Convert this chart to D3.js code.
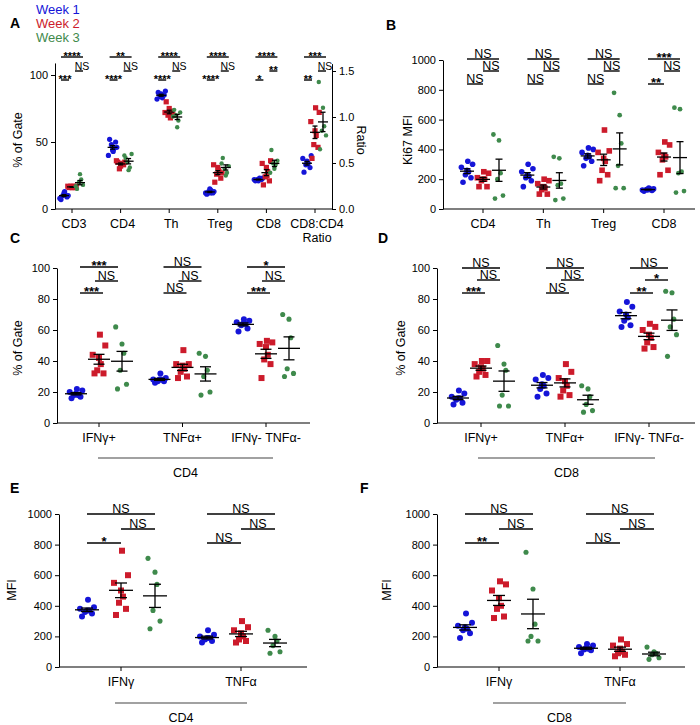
<!DOCTYPE html>
<html><head><meta charset="utf-8">
<script src="https://cdn.jsdelivr.net/npm/d3@7"></script>
<style>body{margin:0;background:#fff}text{font-family:"Liberation Sans",Arial,sans-serif}</style>
</head><body><svg id="c" width="700" height="725"></svg>
<script>
const weeks = ["Week 1","Week 2","Week 3"];
const colors = ["#1515d8","#cc1b2b","#3f8a4c"];

// Panel A
const catsA = ["CD3","CD4","Th","Treg","CD8","CD8:CD4\nRatio"];
const dataA = [
 [[7,9,10,11,12,8,10,13],[16,16,17,17,16,17,17,16],[15,18,20,22,26,17]],
 [[52,50,48,45,44,40,46,43],[35,33,30,34,32,36,35,34],[38,41,35,31,29,40]],
 [[87,85,84,83,86,82,88,84],[80,73,70,68,75,72,70,71],[74,72,70,66,61,69]],
 [[11,12,13,14,15,12,13,12],[20,23,26,28,31,33,27,29],[38,32,30,27,25,34]],
 [[21,22,22,23,21,22,23,22],[18,21,24,28,31,34,36,25],[44,36,34,33,30,27]],
 [[0.40,0.45,0.48,0.50,0.52,0.55,0.58,0.50],[0.55,0.67,0.70,0.80,0.85,0.95,1.05,1.10],[0.65,0.80,0.85,0.90,1.10,1.38]]
];
const sigA = [["****","NS","***"],["**","NS","****"],["****","NS","****"],["****","NS","****"],["****","**","*"],["***","NS","**"]];
const ticksA = [0,50,100];
const ticksARight = [0,0.5,1.0,1.5];

// Panel B
const catsB = ["CD4","Th","Treg","CD8"];
const dataB = [
 [[180,210,230,250,260,280,300,320],[150,150,190,200,200,210,240,250],[70,90,200,240,460,500]],
 [[150,190,210,220,230,250,270,300],[100,100,130,140,150,170,190,200],[60,70,160,170,340,350]],
 [[290,320,340,350,360,380,400,410],[190,230,260,320,340,380,390,530],[140,140,290,440,630,780]],
 [[120,125,130,135,130,128,135,140],[230,260,330,350,360,380,430,450],[110,120,240,250,670,680]]
];
const sigB = [["NS","NS","NS"],["NS","NS","NS"],["NS","NS","NS"],["***","NS","**"]];
const ticksMFI = [0,200,400,600,800,1000];

// Panels C and D
const catsCD = ["IFNγ+","TNFα+","IFNγ- TNFα-"];
const dataC = [
 [[16,17,18,18,19,20,21,22],[32,32,34,38,42,44,50,57],[22,25,34,45,51,62]],
 [[26,27,27,28,28,28,29,32],[29,30,33,35,37,38,38,47],[18,20,30,34,43,45]],
 [[59,61,63,64,64,65,66,67],[29,38,41,44,49,51,52,53],[30,32,35,55,67,70]]
];
const sigC = [["***","NS","***"],["NS","NS","NS"],["*","NS","***"]];
const dataD = [
 [[12,13,15,16,16,17,19,21],[30,31,33,35,36,38,40,40],[11,11,18,34,38,50]],
 [[17,19,22,24,25,28,29,31],[17,18,21,24,27,29,33,38],[7,8,12,17,22,24]],
 [[62,63,66,68,70,72,75,78],[48,49,52,55,57,60,62,64],[43,57,62,67,84,85]]
];
const sigD = [["NS","NS","***"],["NS","NS","NS"],["NS","*","**"]];
const ticksPct = [0,20,40,60,80,100];

// Panels E and F
const catsEF = ["IFNγ","TNFα"];
const dataE = [
 [[330,350,360,370,370,380,390,440],[340,380,420,460,500,550,600,760],[250,300,370,540,620,710]],
 [[160,170,180,190,190,200,210,240],[160,170,180,200,220,240,260,300],[90,100,140,170,200,240]]
];
const sigE = [["NS","NS","*"],["NS","NS","NS"]];
const dataF = [
 [[190,220,240,250,260,270,290,350],[320,330,380,400,450,500,540,560],[170,170,200,280,510,750]],
 [[90,110,115,120,125,130,140,150],[70,80,90,100,120,140,150,180],[50,60,80,90,100,130]]
];
const sigF = [["NS","NS","**"],["NS","NS","NS"]];

const svg = d3.select("#c");
const jit = [-5,5,-2,2,0,-7,7,1];

function panel(o){
  const g = svg.append("g");
  const y = d3.scaleLinear().domain([0,o.tmax]).range([o.y0,o.yt]);
  const x = d3.scalePoint().domain(o.cats).range([o.c0,o.c1]);
  const ya = y.copy().domain([0,o.dmax]).range([o.y0,y(o.dmax)]);
  const la = g.append("g").attr("transform",`translate(${o.ax},0)`)
    .call(d3.axisLeft(ya).tickValues(o.ticks).tickSize(4).tickSizeOuter(0).tickFormat(d3.format("d")));
  la.selectAll("text").style("font-size","11px").style("font-family","Liberation Sans, Arial");
  g.append("line").attr("x1",o.ax).attr("x2",o.xe).attr("y1",o.y0).attr("y2",o.y0).attr("stroke","#000").attr("stroke-width",1.2);
  o.cats.forEach(c=>{
    g.append("line").attr("x1",x(c)).attr("x2",x(c)).attr("y1",o.y0).attr("y2",o.y0+4).attr("stroke","#000");
    const lines = c.split("\n");
    lines.forEach((t,i)=>g.append("text").attr("x",x(c)+(o.lx||0)).attr("y",o.y0+19+i*14).attr("text-anchor","middle").style("font-size","12.5px").text(t));
  });
  g.append("text").attr("transform",`translate(${o.tx},${o.ty}) rotate(-90)`).attr("text-anchor","middle").style("font-size","12.5px").text(o.title);
  let yr = null;
  if(o.right){
    yr = d3.scaleLinear().domain([0,1.5]).range([o.y0,o.yr15]);
    const ra = g.append("g").attr("transform",`translate(${o.xe},0)`)
      .call(d3.axisRight(yr.copy().domain([0,1.58]).range([o.y0,yr(1.58)])).tickValues(ticksARight).tickSize(4).tickSizeOuter(0).tickFormat(d3.format(".1f")));
    ra.selectAll("text").style("font-size","11px");
  }
  o.data.forEach((grp,ci)=>{
    const cx = x(o.cats[ci]);
    const ys = (o.right && ci===o.cats.length-1) ? yr : y;
    grp.forEach((vals,wi)=>{
      const gx = cx + (wi-1)*o.off;
      vals.forEach((v,i)=>{
        const px = gx + jit[i%8]*o.js, py = ys(v);
        if(wi===1) g.append("rect").attr("x",px-o.r).attr("y",py-o.r).attr("width",o.r*2).attr("height",o.r*2).attr("fill",colors[1]);
        else g.append("circle").attr("cx",px).attr("cy",py).attr("r",wi===0?o.r:o.r*0.85).attr("fill",colors[wi]);
      });
      const m = d3.mean(vals), se = d3.deviation(vals)/Math.sqrt(vals.length);
      g.append("line").attr("x1",gx-o.mw).attr("x2",gx+o.mw).attr("y1",ys(m)).attr("y2",ys(m)).attr("stroke","#000").attr("stroke-width",1.3);
      [m-se,m+se].forEach(v=>g.append("line").attr("x1",gx-o.mw*0.5).attr("x2",gx+o.mw*0.5).attr("y1",ys(v)).attr("y2",ys(v)).attr("stroke","#000").attr("stroke-width",1.3));
      g.append("line").attr("x1",gx).attr("x2",gx).attr("y1",ys(m-se)).attr("y2",ys(m+se)).attr("stroke","#000").attr("stroke-width",1.3);
    });
    const s = o.sig[ci];
    const bx=cx-o.off, rx=cx, gx=cx+o.off, t=o.trim;
    const spans = [[bx-t,gx+t],[rx+t,gx+t],[bx-t,rx-t]];
    const fs = o.sfs||13;
    spans.forEach((sp,k)=>{
      const ly = o.sy[k];
      g.append("line").attr("x1",sp[0]).attr("x2",sp[1]).attr("y1",ly).attr("y2",ly).attr("stroke","#000").attr("stroke-width",1.4);
      const isNS = s[k]==="NS";
      g.append("text").attr("x",(sp[0]+sp[1])/2 + (isNS&&k===1?(o.nsx||0):0)).attr("y",isNS?ly-1.5:ly+3).attr("text-anchor","middle")
        .style("font-size",(isNS?fs-0.5:fs)+"px").style("font-weight",isNS?"normal":"bold").text(s[k]);
    });
  });
  if(o.group){
    g.append("line").attr("x1",o.group[0]).attr("x2",o.group[1]).attr("y1",o.group[2]).attr("y2",o.group[2]).attr("stroke","#444").attr("stroke-width",1.2);
    g.append("text").attr("x",(o.group[0]+o.group[1])/2).attr("y",o.group[2]+19).attr("text-anchor","middle").style("font-size","12.5px").text(o.group[3]);
  }
  svg.append("text").attr("x",o.L[0]).attr("y",o.L[1]).style("font-size","14px").style("font-weight","bold").text(o.L[2]);
}

panel({cats:catsA,data:dataA,sig:sigA,ticks:ticksA,tmax:100,dmax:109,y0:209,yt:75,c0:72,c1:315,ax:55,xe:332,off:8,js:0.6,r:2.6,mw:5,trim:3,sfs:11,nsx:3,
  sy:[57,71,80],tx:22,ty:140,title:"% of Gate",right:true,yr15:71,L:[10,28,"A"],lx:2});
svg.append("text").attr("transform","translate(357,140) rotate(90)").attr("text-anchor","middle").style("font-size","12.5px").text("Ratio");
weeks.forEach((w,i)=>svg.append("text").attr("x",36).attr("y",14+i*14).style("font-size","13px").attr("fill",colors[i]).text(w));

panel({cats:catsB,data:dataB,sig:sigB,ticks:ticksMFI,tmax:1000,dmax:1000,y0:209,yt:60,c0:483,c1:664,ax:443,xe:695,off:16,js:0.8,r:2.8,mw:7,trim:0,
  sy:[59,71,84],tx:412,ty:140,title:"Ki67  MFI",L:[386,30,"B"]});

panel({cats:catsCD,data:dataC,sig:sigC,ticks:ticksPct,tmax:100,dmax:100,y0:423,yt:268,c0:99,c1:266,ax:57,xe:310,off:23,js:0.9,r:3,mw:11,trim:-4,
  sy:[267,281,293],tx:22,ty:348,title:"% of Gate",group:[98,273,458,"CD4"],L:[10,243,"C"]});

panel({cats:catsCD,data:dataD,sig:sigD,ticks:ticksPct,tmax:100,dmax:100,y0:423,yt:268,c0:481,c1:649,ax:437,xe:695,off:23,js:0.9,r:3,mw:11,trim:-4,
  sy:[268,280,293],tx:405,ty:348,title:"% of Gate",group:[478,655,458,"CD8"],L:[378,243,"D"]});

panel({cats:catsEF,data:dataE,sig:sigE,ticks:ticksMFI,tmax:1000,dmax:1000,y0:667,yt:514,c0:121,c1:241,ax:59,xe:307,off:34,js:1,r:3,mw:12,trim:0,
  sy:[514,529,543],tx:16,ty:590,title:"MFI",group:[115,247,703,"CD4"],L:[10,493,"E"]});

panel({cats:catsEF,data:dataF,sig:sigF,ticks:ticksMFI,tmax:1000,dmax:1000,y0:667,yt:514,c0:499,c1:620,ax:437,xe:685,off:34,js:1,r:3,mw:12,trim:0,
  sy:[514,529,543],tx:391,ty:590,title:"MFI",group:[493,626,703,"CD8"],L:[360,493,"F"]});
</script></body></html>
